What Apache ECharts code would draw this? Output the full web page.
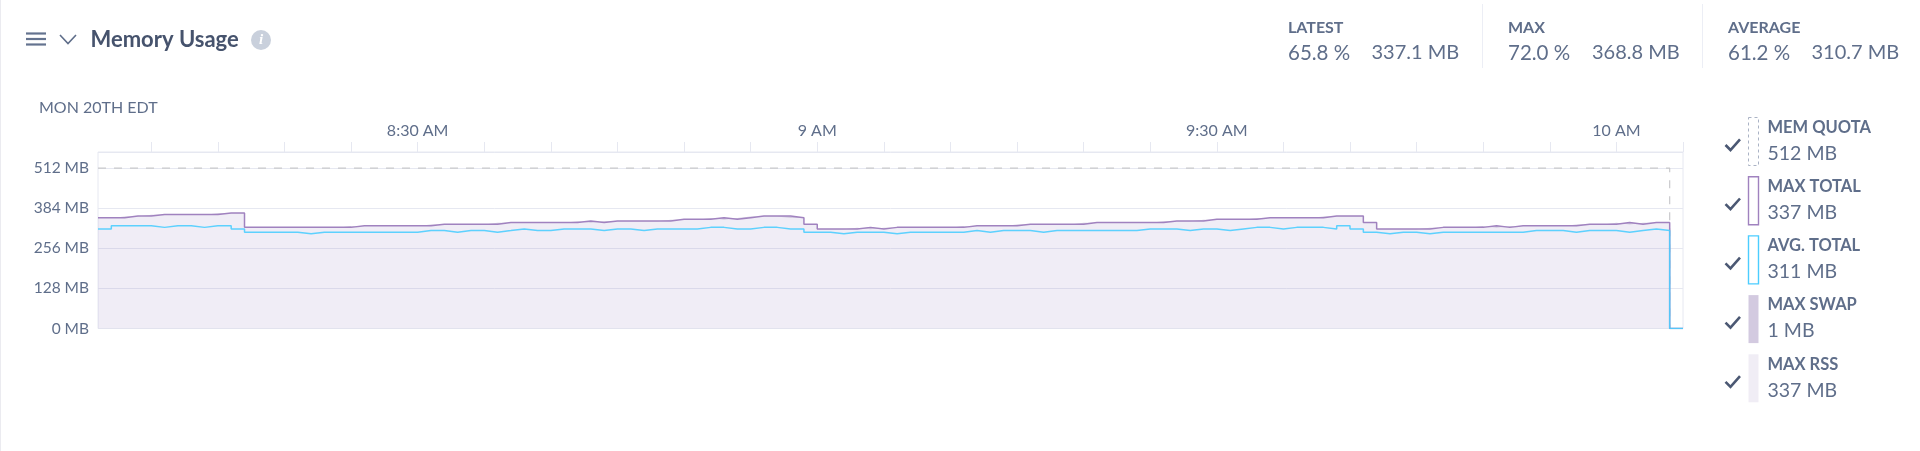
<!DOCTYPE html>
<html>
<head>
<meta charset="utf-8">
<title>Memory Usage</title>
<style>
  html, body { margin: 0; padding: 0; background: #fff; }
  #main { width: 1920px; height: 451px; }
</style>
</head>
<body>
<div id="main"></div>
<script src="https://cdn.jsdelivr.net/npm/echarts@6/dist/echarts.min.js"></script>
<script>
// one sample per minute, 8:06 to 10:05
const minutes = [
  "8:06","8:07","8:08","8:09","8:10","8:11","8:12","8:13","8:14","8:15",
  "8:16","8:17","8:18","8:19","8:20","8:21","8:22","8:23","8:24","8:25",
  "8:26","8:27","8:28","8:29","8:30","8:31","8:32","8:33","8:34","8:35",
  "8:36","8:37","8:38","8:39","8:40","8:41","8:42","8:43","8:44","8:45",
  "8:46","8:47","8:48","8:49","8:50","8:51","8:52","8:53","8:54","8:55",
  "8:56","8:57","8:58","8:59","9:00","9:01","9:02","9:03","9:04","9:05",
  "9:06","9:07","9:08","9:09","9:10","9:11","9:12","9:13","9:14","9:15",
  "9:16","9:17","9:18","9:19","9:20","9:21","9:22","9:23","9:24","9:25",
  "9:26","9:27","9:28","9:29","9:30","9:31","9:32","9:33","9:34","9:35",
  "9:36","9:37","9:38","9:39","9:40","9:41","9:42","9:43","9:44","9:45",
  "9:46","9:47","9:48","9:49","9:50","9:51","9:52","9:53","9:54","9:55",
  "9:56","9:57","9:58","9:59","10:00","10:01","10:02","10:03","10:04","10:05"
];
const tickMinutes = [
  "8:10","8:15","8:20","8:25","8:30","8:35","8:40","8:45","8:50","8:55","9:00","9:05",
  "9:10","9:15","9:20","9:25","9:30","9:35","9:40","9:45","9:50","9:55","10:00","10:05"
];
const timeLabels = { "8:30": "8:30 AM", "9:00": "9 AM", "9:30": "9:30 AM", "10:00": "10 AM" };
const yTicks = [0, 128, 256, 384, 512];

const maxTotal = [
  353.4,353.4,358.6,358.6,363.7,363.7,363.7,363.7,363.7,368.8,
  368.8,322.7,322.7,322.7,322.7,322.7,322.7,322.7,322.7,327.8,
  327.8,327.8,327.8,327.8,327.8,332.9,332.9,332.9,332.9,332.9,
  338.1,338.1,338.1,338.1,338.1,338.1,343.2,338.1,343.2,343.2,
  343.2,343.2,343.2,348.3,348.3,348.3,353.4,348.3,353.4,358.6,
  358.6,358.6,353.4,332.9,317.6,317.6,317.6,322.7,317.6,322.7,
  322.7,322.7,322.7,322.7,322.7,327.8,327.8,327.8,327.8,332.9,
  332.9,332.9,332.9,332.9,338.1,338.1,338.1,338.1,338.1,338.1,
  343.2,343.2,343.2,348.3,348.3,348.3,348.3,353.4,353.4,353.4,
  353.4,353.4,358.6,358.6,358.6,338.1,317.6,317.6,317.6,317.6,
  322.7,322.7,322.7,322.7,327.8,322.7,327.8,327.8,327.8,327.8,
  327.8,332.9,332.9,332.9,338.1,332.9,338.1,338.1,0,0
];
const avgTotal = [
  317.6,327.8,327.8,327.8,322.7,327.8,327.8,322.7,327.8,327.8,
  317.6,307.3,307.3,307.3,307.3,302.2,307.3,307.3,307.3,307.3,
  307.3,307.3,307.3,307.3,312.4,312.4,307.3,312.4,312.4,307.3,
  312.4,317.6,312.4,312.4,317.6,317.6,317.6,312.4,317.6,317.6,
  312.4,317.6,317.6,317.6,317.6,322.7,322.7,317.6,317.6,322.7,
  322.7,317.6,317.6,307.3,307.3,302.2,307.3,307.3,307.3,302.2,
  307.3,307.3,307.3,307.3,307.3,312.4,307.3,312.4,312.4,312.4,
  307.3,312.4,312.4,312.4,312.4,312.4,312.4,312.4,317.6,317.6,
  317.6,312.4,317.6,317.6,312.4,317.6,322.7,322.7,317.6,322.7,
  322.7,322.7,317.6,327.8,317.6,307.3,302.2,307.3,307.3,302.2,
  307.3,307.3,307.3,307.3,307.3,307.3,307.3,312.4,312.4,312.4,
  307.3,312.4,312.4,312.4,307.3,312.4,317.6,312.4,0,0
];
const maxRss = [
  352.4,352.4,357.6,357.6,362.7,362.7,362.7,362.7,362.7,367.8,
  367.8,321.7,321.7,321.7,321.7,321.7,321.7,321.7,321.7,326.8,
  326.8,326.8,326.8,326.8,326.8,331.9,331.9,331.9,331.9,331.9,
  337.1,337.1,337.1,337.1,337.1,337.1,342.2,337.1,342.2,342.2,
  342.2,342.2,342.2,347.3,347.3,347.3,352.4,347.3,352.4,357.6,
  357.6,357.6,352.4,331.9,316.6,316.6,316.6,321.7,316.6,321.7,
  321.7,321.7,321.7,321.7,321.7,326.8,326.8,326.8,326.8,331.9,
  331.9,331.9,331.9,331.9,337.1,337.1,337.1,337.1,337.1,337.1,
  342.2,342.2,342.2,347.3,347.3,347.3,347.3,352.4,352.4,352.4,
  352.4,352.4,357.6,357.6,357.6,337.1,316.6,316.6,316.6,316.6,
  321.7,321.7,321.7,321.7,326.8,321.7,326.8,326.8,326.8,326.8,
  326.8,331.9,331.9,331.9,337.1,331.9,337.1,337.1,0,0
];
const maxSwap = [
  1,1,1,1,1,1,1,1,1,1, 1,1,1,1,1,1,1,1,1,1,
  1,1,1,1,1,1,1,1,1,1, 1,1,1,1,1,1,1,1,1,1,
  1,1,1,1,1,1,1,1,1,1, 1,1,1,1,1,1,1,1,1,1,
  1,1,1,1,1,1,1,1,1,1, 1,1,1,1,1,1,1,1,1,1,
  1,1,1,1,1,1,1,1,1,1, 1,1,1,1,1,1,1,1,1,1,
  1,1,1,1,1,1,1,1,1,1, 1,1,1,1,1,1,1,1,0,0
];
const memQuota = [
  512,512,512,512,512,512,512,512,512,512, 512,512,512,512,512,512,512,512,512,512,
  512,512,512,512,512,512,512,512,512,512, 512,512,512,512,512,512,512,512,512,512,
  512,512,512,512,512,512,512,512,512,512, 512,512,512,512,512,512,512,512,512,512,
  512,512,512,512,512,512,512,512,512,512, 512,512,512,512,512,512,512,512,512,512,
  512,512,512,512,512,512,512,512,512,512, 512,512,512,512,512,512,512,512,512,512,
  512,512,512,512,512,512,512,512,512,512, 512,512,512,512,512,512,512,512,0,0
];

const legendNames = ["MEM QUOTA", "MAX TOTAL", "AVG. TOTAL", "MAX SWAP", "MAX RSS"];
const legendValues = ["512 MB", "337 MB", "311 MB", "1 MB", "337 MB"];
const statNames = ["LATEST", "MAX", "AVERAGE"];
const statPercents = ["65.8 %", "72.0 %", "61.2 %"];
const statSizes = ["337.1 MB", "368.8 MB", "310.7 MB"];

const FONT = "Lato, 'Open Sans', sans-serif";
const TEXT = "#5f6e8a";
const DARK = "#46536d";
const LINE = "#e6e8f1";
const PURPLE = "#a082bf";
const BLUE = "#4ccdff";

function txt(text, x, y, size, fill, weight) {
  return {
    type: "text", silent: true,
    style: { text: text, x: x, y: y, fontSize: size, fontFamily: FONT, fontWeight: weight || 400, fill: fill, verticalAlign: "middle" }
  };
}
function seg(points, stroke, width) {
  return { type: "polyline", silent: true, shape: { points: points }, style: { stroke: stroke, lineWidth: width, fill: null } };
}

const graphics = [
  { type: "rect", silent: true, shape: { x: 0, y: 0, width: 1, height: 451 }, style: { fill: "#ebebf0" } },
  // header icons
  seg([[26, 33.5], [46, 33.5]], "#64738f", 2.2),
  seg([[26, 39], [46, 39]], "#64738f", 2.2),
  seg([[26, 44.5], [46, 44.5]], "#64738f", 2.2),
  seg([[60, 35], [68, 43.5], [76, 35]], "#5f6e8a", 1.6),
  txt("Memory Usage", 90.5, 39.5, 22, DARK, 700),
  { type: "circle", silent: true, shape: { cx: 261, cy: 40, r: 10 }, style: { fill: "#c9d0dc" } },
  { type: "text", silent: true, style: { text: "i", x: 261, y: 40, fontSize: 15, fontFamily: "'Liberation Serif', serif", fontStyle: "italic", fontWeight: 700, fill: "#fff", align: "center", verticalAlign: "middle" } },
  txt("MON 20TH EDT", 39, 108, 16, TEXT),
  // dividers between the stats
  seg([[1482.5, 4], [1482.5, 68]], "#eceef5", 1),
  seg([[1702.5, 4], [1702.5, 68]], "#eceef5", 1)
];

const statX = [1288, 1508, 1728];
const sizeX = [1371.5, 1592, 1811.5];
statNames.forEach(function (name, i) {
  graphics.push(txt(name, statX[i], 27.5, 16, TEXT, 700));
  graphics.push(txt(statPercents[i], statX[i], 53, 20.5, TEXT));
  graphics.push(txt(statSizes[i], sizeX[i], 53, 20, TEXT));
});

const swatchStyles = [
  { fill: "#fff", stroke: "#aab3c5", lineWidth: 1, lineDash: [3, 3] },
  { fill: "#fff", stroke: PURPLE, lineWidth: 1.4 },
  { fill: "#fff", stroke: BLUE, lineWidth: 1.4 },
  { fill: "#d3cae0" },
  { fill: "#f0edf5" }
];
legendNames.forEach(function (name, i) {
  const top = 117.5 + i * 59.2;
  graphics.push(seg([[1725.5, top + 27.5], [1730.5, top + 32.5], [1740, top + 21.8]], "#4b5873", 2.6));
  graphics.push({ type: "rect", silent: true, shape: { x: 1748.5, y: top, width: 10, height: 48 }, style: swatchStyles[i] });
  graphics.push(txt(name, 1767.5, top + 10, 16.5, TEXT, 700));
  graphics.push(txt(legendValues[i], 1767.5, top + 36, 19.5, TEXT));
});

const stepLine = { type: "line", step: "end", showSymbol: false, silent: true };

const chart = echarts.init(document.getElementById("main"), null, { renderer: "canvas" });
chart.setOption({
  animation: false,
  backgroundColor: "#fff",
  textStyle: { fontFamily: FONT },
  grid: { left: 98, right: 237, top: 152, bottom: 122.5, show: true, borderColor: LINE, borderWidth: 1, backgroundColor: "transparent" },
  xAxis: {
    type: "category",
    position: "top",
    boundaryGap: false,
    data: minutes,
    axisLine: { show: false, onZero: false },
    axisTick: {
      length: 10,
      lineStyle: { color: LINE },
      interval: function (i, value) { return tickMinutes.indexOf(value) >= 0; }
    },
    axisLabel: {
      interval: function (i, value) { return value in timeLabels; },
      formatter: function (value) { return timeLabels[value]; },
      margin: 13, fontSize: 16, color: TEXT, fontFamily: FONT
    },
    splitLine: { show: false }
  },
  yAxis: {
    type: "value",
    min: 0,
    max: 563.2,
    interval: 128,
    axisLine: { show: false },
    axisTick: { show: false },
    axisLabel: {
      margin: 9, fontSize: 15.5, color: TEXT, fontFamily: FONT,
      formatter: function (v) { return yTicks.indexOf(v) >= 0 ? v + " MB" : ""; }
    },
    splitLine: { lineStyle: { color: LINE, width: 1 } }
  },
  series: [
    Object.assign({}, stepLine, { name: "MAX RSS", data: maxRss, stack: "mem", lineStyle: { width: 0 }, areaStyle: { color: "rgba(150,125,190,0.14)", opacity: 1 } }),
    Object.assign({}, stepLine, { name: "MAX SWAP", data: maxSwap, stack: "mem", lineStyle: { width: 0 }, areaStyle: { color: "#d3cae0", opacity: 1 } }),
    Object.assign({}, stepLine, { name: "MEM QUOTA", data: memQuota, lineStyle: { color: "#c9c9cc", width: 1.2, type: [8, 8] } }),
    Object.assign({}, stepLine, { name: "MAX TOTAL", data: maxTotal, lineStyle: { color: PURPLE, width: 1.5 } }),
    Object.assign({}, stepLine, { name: "AVG. TOTAL", data: avgTotal, lineStyle: { color: BLUE, width: 1.5, opacity: 0.9 } })
  ],
  graphic: graphics
});
</script>
</body>
</html>
